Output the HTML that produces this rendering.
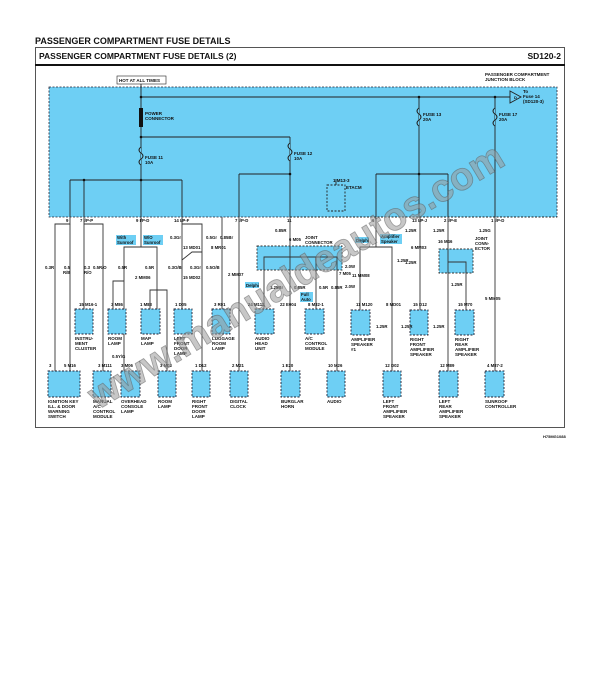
<!DOCTYPE html>
<html><head><meta charset="utf-8"><style>
body{margin:0;background:#fff;width:609px;height:675px;overflow:hidden}
svg text{font-family:"Liberation Sans",sans-serif;font-weight:bold;fill:#111}
</style></head><body>
<svg width="609" height="675" viewBox="0 0 609 675" xmlns="http://www.w3.org/2000/svg">
<text x="35" y="44" font-size="9">PASSENGER  COMPARTMENT  FUSE  DETAILS</text>
<rect x="35.5" y="47.5" width="529" height="380" fill="none" stroke="#555" stroke-width="1"/>
<line x1="35" y1="65" x2="565" y2="65" stroke="#111" stroke-width="2"/>
<text x="39" y="59" font-size="8.5">PASSENGER COMPARTMENT FUSE DETAILS (2)</text>
<text x="561" y="59" font-size="8.5" text-anchor="end">SD120-2</text>
<rect x="49" y="87" width="508" height="130" fill="#6ecff4" stroke="#223" stroke-width="0.8" stroke-dasharray="2,1.5"/>
<rect x="117" y="76" width="49" height="8" fill="#fff" stroke="#222" stroke-width="0.6"/>
<text x="119" y="82" font-size="4.5" font-weight="normal">HOT AT ALL TIMES</text>
<text x="485" y="76" font-size="4.5">PASSENGER COMPARTMENT</text>
<text x="485" y="81" font-size="4.5">JUNCTION BLOCK</text>
<g stroke="#222" stroke-width="0.9" fill="none">
<line x1="141" y1="84" x2="141" y2="217"/>
<line x1="141" y1="97" x2="510" y2="97"/>
<polygon points="510,91 510,103 521,97" fill="#6ecff4"/>
<line x1="141" y1="137" x2="290" y2="137"/>
<line x1="290" y1="137" x2="290" y2="217"/>
<line x1="239" y1="174" x2="290" y2="174"/><line x1="239" y1="174" x2="239" y2="217"/>
<line x1="70" y1="180" x2="182" y2="180"/><line x1="70" y1="180" x2="70" y2="217"/><line x1="84" y1="180" x2="84" y2="217"/><line x1="182" y1="180" x2="182" y2="217"/>
<line x1="419" y1="97" x2="419" y2="217"/><line x1="495" y1="97" x2="495" y2="217"/>
<line x1="376" y1="174" x2="448" y2="174"/><line x1="376" y1="174" x2="376" y2="217"/><line x1="448" y1="174" x2="448" y2="217"/>
<rect x="327" y="185" width="18" height="26" stroke-dasharray="2,1.5"/>
<line x1="336" y1="179" x2="336" y2="185"/>
<line x1="290" y1="217" x2="557" y2="217" stroke-dasharray="2,1.5"/>
</g>
<rect x="139" y="108" width="4" height="19" fill="#111"/>
<g fill="#111">
<circle cx="141" cy="97" r="1.3"/><circle cx="419" cy="97" r="1.3"/><circle cx="495" cy="97" r="1.3"/>
<circle cx="141" cy="137" r="1.3"/><circle cx="290" cy="174" r="1.3"/><circle cx="141" cy="180" r="1.3"/><circle cx="84" cy="180" r="1.3"/><circle cx="419" cy="174" r="1.3"/>
</g>
<g font-size="4.5">
<text x="514" y="99" font-size="4">D</text>
<text x="523" y="93" font-weight="normal">To</text><text x="523" y="98" font-weight="normal">Fuse 14</text><text x="523" y="103" font-weight="normal">(SD120-3)</text>
<text x="145" y="115">POWER</text><text x="145" y="120">CONNECTOR</text>
<text x="145" y="159">FUSE 11</text><text x="145" y="164">10A</text>
<text x="294" y="155">FUSE 12</text><text x="294" y="160">10A</text>
<text x="423" y="116">FUSE 13</text><text x="423" y="121">20A</text>
<text x="499" y="116">FUSE 17</text><text x="499" y="121">20A</text>
<text x="333" y="182">1  M13-3</text><text x="346" y="189">ETACM</text>
</g>
<g stroke="#222" stroke-width="1" fill="#6ecff4">
<path d="M141 147 q-4 3 0 6 q4 3 0 6 q-4 3 0 6" /><path d="M290 143 q-4 3 0 6 q4 3 0 6 q-4 3 0 6"/>
<path d="M419 108 q-4 3 0 6 q4 3 0 6 q-4 3 0 6"/><path d="M495 108 q-4 3 0 6 q4 3 0 6 q-4 3 0 6"/>
</g>
<g stroke="#333" stroke-width="0.9" fill="none">
<path d="M70 217 L70 224 L55 224 L55 371"/><path d="M70 224 L70 371"/>
<path d="M84 217 L84 309"/><path d="M84 224 L103 224 L103 371"/>
<path d="M141 217 L141 247 L124 247 L124 371"/><path d="M141 247 L157 247 L157 309"/>
<path d="M113 309 L113 281 L124 281"/><path d="M150 309 L150 290 L167 290 L167 371"/>
<path d="M182 217 L182 309"/><path d="M182 224 L202 224 L202 371"/><path d="M182 260 L192 252 L202 252"/>
<path d="M222 217 L222 309"/><path d="M239 217 L239 371"/>
<path d="M290 217 L290 246"/><rect x="257" y="246" width="85" height="24" fill="#6ecff4" stroke-dasharray="2,1.5"/>
<path d="M264 270 L264 257 L337 257 L337 270"/><path d="M290 246 L290 270"/><path d="M316 257 L316 270"/>
<path d="M264 270 L264 309"/><path d="M290 270 L290 371"/><path d="M316 270 L316 309"/><path d="M337 270 L337 371"/>
<path d="M376 217 L376 247 L360 247 L360 310"/><path d="M376 247 L392 247 L392 371"/>
<path d="M420 217 L420 310"/>
<path d="M448 217 L448 249"/><rect x="439" y="249" width="34" height="24" fill="#6ecff4" stroke-dasharray="2,1.5"/>
<path d="M448 249 L448 371"/><path d="M448 262 L466 262 L466 310"/>
<path d="M495 217 L495 371"/>
</g>
<g fill="#6ecff4" stroke="#223" stroke-width="0.9" stroke-dasharray="2,1.5">
<rect x="75" y="309" width="18" height="25"/><rect x="108" y="309" width="18" height="25"/><rect x="141" y="309" width="19" height="25"/><rect x="174" y="309" width="18" height="25"/><rect x="212" y="309" width="18" height="25"/><rect x="255" y="309" width="19" height="25"/><rect x="305" y="309" width="19" height="25"/><rect x="351" y="310" width="19" height="25"/><rect x="410" y="310" width="18" height="25"/><rect x="455" y="310" width="19" height="25"/>
<rect x="48" y="371" width="32" height="26"/><rect x="93" y="371" width="18" height="26"/><rect x="121" y="371" width="19" height="26"/><rect x="158" y="371" width="18" height="26"/><rect x="192" y="371" width="18" height="26"/><rect x="230" y="371" width="18" height="26"/><rect x="281" y="371" width="19" height="26"/><rect x="327" y="371" width="18" height="26"/><rect x="383" y="371" width="18" height="26"/><rect x="439" y="371" width="19" height="26"/><rect x="485" y="371" width="19" height="26"/>
</g>
<g font-size="4.3">
<text x="66" y="222">9</text><text x="80" y="222">7  I/P-P</text><text x="136" y="222">9  I/P-D</text><text x="174" y="222">14 I/P-F</text><text x="235" y="222">7  I/P-D</text><text x="287" y="222">11</text><text x="372" y="222">6</text><text x="412" y="222">13  I/P-J</text><text x="444" y="222">2  I/P-E</text><text x="491" y="222">1  I/P-D</text>
<text x="45" y="269" font-weight="normal">0.3R</text><text x="64" y="269" font-weight="normal">0.5</text><text x="63" y="274" font-weight="normal">R/B</text><text x="84" y="269" font-weight="normal">0.3</text><text x="84" y="274" font-weight="normal">R/O</text><text x="93" y="269" font-weight="normal">0.5R/O</text>
<text x="118" y="269" font-weight="normal">0.5R</text><text x="145" y="269" font-weight="normal">0.5R</text><text x="170" y="239" font-weight="normal">0.3Gr</text><text x="168" y="269" font-weight="normal">0.3O/B</text><text x="190" y="269" font-weight="normal">0.3Gr</text><text x="206" y="239" font-weight="normal">0.5Gr</text><text x="220" y="239" font-weight="normal">0.85Br</text><text x="206" y="269" font-weight="normal">0.5O/B</text>
<text x="275" y="232" font-weight="normal">0.85R</text><text x="270" y="289" font-weight="normal">1.25Br</text><text x="294" y="289" font-weight="normal">0.85R</text><text x="319" y="289" font-weight="normal">0.5R</text><text x="331" y="289" font-weight="normal">0.85R</text>
<text x="305" y="239">JOINT</text><text x="305" y="244">CONNECTOR</text>
<text x="397" y="262" font-weight="normal">1.25R</text><text x="345" y="268" font-weight="normal">2.0W</text><text x="345" y="288" font-weight="normal">2.0W</text><text x="405" y="232" font-weight="normal">1.25R</text><text x="405" y="264" font-weight="normal">1.25R</text><text x="433" y="232" font-weight="normal">1.25R</text><text x="479" y="232" font-weight="normal">1.25G</text><text x="451" y="286" font-weight="normal">1.25R</text>
<text x="401" y="328" font-weight="normal">1.25R</text><text x="433" y="328" font-weight="normal">1.25R</text><text x="376" y="328" font-weight="normal">1.25R</text>
<text x="475" y="240">JOINT</text><text x="475" y="245">CONN-</text><text x="475" y="250">ECTOR</text>
<text x="79" y="306">15  M16-1</text><text x="111" y="306">3  M86</text><text x="140" y="306">1  M83</text><text x="175" y="306">1  D05</text><text x="214" y="306">3  R01</text><text x="248" y="306">24  M112</text><text x="280" y="306">22  E004</text><text x="308" y="306">8  M32-1</text><text x="356" y="306">11  M120</text><text x="386" y="306">8  MD01</text><text x="413" y="306">15  D12</text><text x="458" y="306">15  M70</text>
<text x="183" y="249">13  MD01</text><text x="211" y="249">8  MR01</text><text x="183" y="279">15  MD02</text><text x="135" y="279">2  MM06</text><text x="228" y="276">2  MM07</text><text x="352" y="277">11  MM08</text><text x="411" y="249">6  MM03</text><text x="438" y="243">16  M46</text><text x="485" y="300">5  MM05</text><text x="289" y="241">6  M05</text><text x="339" y="275">7  M05</text>
<text x="49" y="367">3</text><text x="64" y="367">5  M16</text><text x="98" y="367">3  M111</text><text x="121" y="367">3  M06</text><text x="160" y="367">3  M02</text><text x="195" y="367">1  D12</text><text x="232" y="367">2  M21</text><text x="282" y="367">1  E20</text><text x="328" y="367">10  M26</text><text x="385" y="367">12  D02</text><text x="440" y="367">12  M89</text><text x="487" y="367">4  M87-2</text><text x="112" y="358" font-weight="normal">0.5Y/G</text>
</g>
<g font-size="4.5">
<text x="75" y="340">INSTRU-</text><text x="75" y="345">MENT</text><text x="75" y="350">CLUSTER</text>
<text x="108" y="340">ROOM</text><text x="108" y="345">LAMP</text><text x="141" y="340">MAP</text><text x="141" y="345">LAMP</text>
<text x="174" y="340">LEFT</text><text x="174" y="345">FRONT</text><text x="174" y="350">DOOR</text><text x="174" y="355">LAMP</text>
<text x="212" y="340">LUGGAGE</text><text x="212" y="345">ROOM</text><text x="212" y="350">LAMP</text>
<text x="255" y="340">AUDIO</text><text x="255" y="345">HEAD</text><text x="255" y="350">UNIT</text>
<text x="305" y="340">A/C</text><text x="305" y="345">CONTROL</text><text x="305" y="350">MODULE</text>
<text x="351" y="341">AMPLIFIER</text><text x="351" y="346">SPEAKER</text><text x="351" y="351">#1</text>
<text x="410" y="341">RIGHT</text><text x="410" y="346">FRONT</text><text x="410" y="351">AMPLIFIER</text><text x="410" y="356">SPEAKER</text>
<text x="455" y="341">RIGHT</text><text x="455" y="346">REAR</text><text x="455" y="351">AMPLIFIER</text><text x="455" y="356">SPEAKER</text>
<text x="48" y="403">IGNITION KEY</text><text x="48" y="408">ILL. &amp; DOOR</text><text x="48" y="413">WARNING</text><text x="48" y="418">SWITCH</text>
<text x="93" y="403">MANUAL</text><text x="93" y="408">A/C</text><text x="93" y="413">CONTROL</text><text x="93" y="418">MODULE</text>
<text x="121" y="403">OVERHEAD</text><text x="121" y="408">CONSOLE</text><text x="121" y="413">LAMP</text>
<text x="158" y="403">ROOM</text><text x="158" y="408">LAMP</text>
<text x="192" y="403">RIGHT</text><text x="192" y="408">FRONT</text><text x="192" y="413">DOOR</text><text x="192" y="418">LAMP</text>
<text x="230" y="403">DIGITAL</text><text x="230" y="408">CLOCK</text>
<text x="281" y="403">BURGLAR</text><text x="281" y="408">HORN</text><text x="327" y="403">AUDIO</text>
<text x="383" y="403">LEFT</text><text x="383" y="408">FRONT</text><text x="383" y="413">AMPLIFIER</text><text x="383" y="418">SPEAKER</text>
<text x="439" y="403">LEFT</text><text x="439" y="408">REAR</text><text x="439" y="413">AMPLIFIER</text><text x="439" y="418">SPEAKER</text>
<text x="485" y="403">SUNROOF</text><text x="485" y="408">CONTROLLER</text>
</g>
<g font-size="4.3">
<rect x="116" y="235" width="20" height="10" fill="#6ecff4"/><text x="117" y="239">With</text><text x="117" y="244">Sunroof</text>
<rect x="143" y="235" width="20" height="10" fill="#6ecff4"/><text x="144" y="239">W/O</text><text x="144" y="244">Sunroof</text>
<rect x="245" y="282" width="14" height="6" fill="#6ecff4"/><text x="246" y="287">Delphi</text>
<rect x="300" y="292" width="13" height="10" fill="#6ecff4"/><text x="301" y="296">Full</text><text x="301" y="301">Auto</text>
<rect x="355" y="237" width="14" height="6" fill="#6ecff4"/><text x="356" y="242">Delphi</text>
<rect x="380" y="234" width="22" height="10" fill="#6ecff4"/><text x="381" y="238">Amplifier</text><text x="381" y="243">Speaker</text>
</g>
<text x="543" y="438" font-size="4" font-weight="normal">H75MG1088</text>
<text x="0" y="0" font-size="39" font-weight="bold" fill-opacity="0.55" stroke="#555" stroke-width="0.8" stroke-opacity="0.5" transform="translate(98,410) rotate(-31)" style="fill:#999">www.manualdeautos.com</text>
</svg>
</body></html>
